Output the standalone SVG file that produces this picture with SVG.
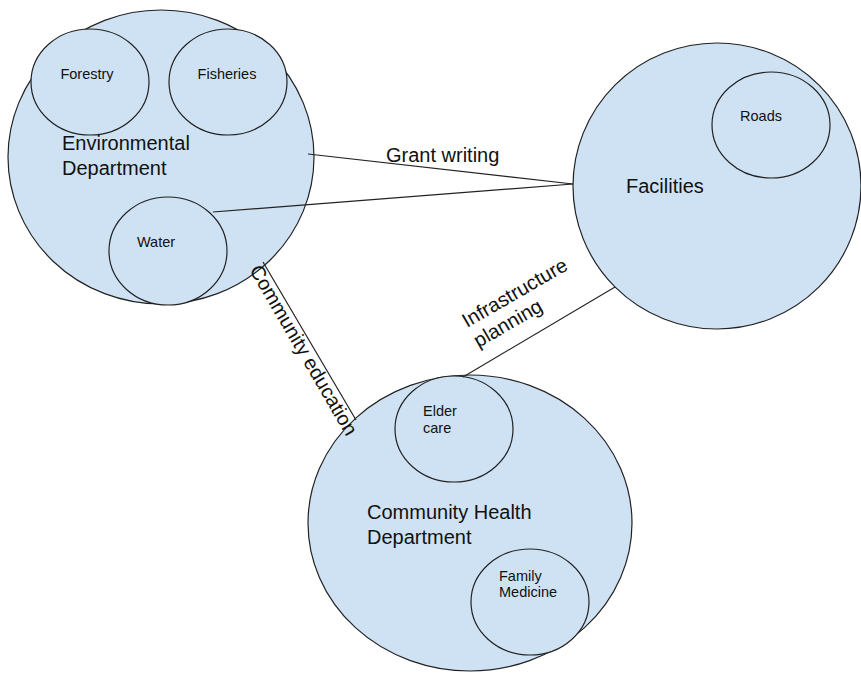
<svg xmlns="http://www.w3.org/2000/svg" width="861" height="677" viewBox="0 0 861 677">
<style>
.big{fill:#cfe2f3;stroke:#222;stroke-width:1.2}
.sub{fill:#cfe2f3;stroke:#222;stroke-width:1.2}
.t20{font-family:"Liberation Sans",Arial,sans-serif;font-size:20px;fill:#111}
.t14{font-family:"Liberation Sans",Arial,sans-serif;font-size:14.5px;fill:#111}
.conn line{stroke:#222;stroke-width:1.2}
</style>
<rect width="861" height="677" fill="#fff"/>
<g id="environmental">
<ellipse class="big" cx="161" cy="157" rx="153" ry="147"/>
<g id="forestry"><ellipse class="sub" cx="90" cy="82" rx="59" ry="53"/><text class="t14" x="87" y="79" text-anchor="middle">Forestry</text></g>
<g id="fisheries"><ellipse class="sub" cx="228" cy="82" rx="59" ry="53"/><text class="t14" x="227" y="79" text-anchor="middle">Fisheries</text></g>
<g id="water"><ellipse class="sub" cx="168" cy="251" rx="59" ry="54"/><text class="t14" x="156" y="247" text-anchor="middle">Water</text></g>
<text class="t20" x="62" y="150">Environmental</text>
<text class="t20" x="62" y="175">Department</text>
</g>
<g id="facilities">
<ellipse class="big" cx="717" cy="186" rx="144" ry="143"/>
<g id="roads"><ellipse class="sub" cx="771" cy="125" rx="59" ry="53"/><text class="t14" x="761" y="121" text-anchor="middle">Roads</text></g>
<text class="t20" x="626" y="193">Facilities</text>
</g>
<g id="community-health">
<ellipse class="big" cx="470" cy="523" rx="162" ry="148"/>
<g id="elder-care"><ellipse class="sub" cx="454" cy="429" rx="59" ry="53"/><text class="t14" x="423" y="416">Elder</text><text class="t14" x="423" y="433">care</text></g>
<g id="family-medicine"><ellipse class="sub" cx="530" cy="602" rx="59" ry="53"/><text class="t14" x="499" y="581">Family</text><text class="t14" x="499" y="597">Medicine</text></g>
<text class="t20" x="367" y="519">Community Health</text>
<text class="t20" x="367" y="544">Department</text>
</g>
<g id="connectors" class="conn">
<line x1="308" y1="154" x2="573" y2="184"/>
<line x1="213" y1="212" x2="573" y2="184"/>
<line x1="263" y1="262" x2="356" y2="420"/>
<line x1="615" y1="287" x2="463" y2="377"/>
<text class="t20" x="386" y="162">Grant writing</text>
<text class="t20" transform="translate(249,270) rotate(59.7)">Community education</text>
<g transform="translate(467,328) rotate(-30)">
<text class="t20" x="0" y="0">Infrastructure</text>
<text class="t20" x="0" y="23">planning</text>
</g>
</g>
</svg>
